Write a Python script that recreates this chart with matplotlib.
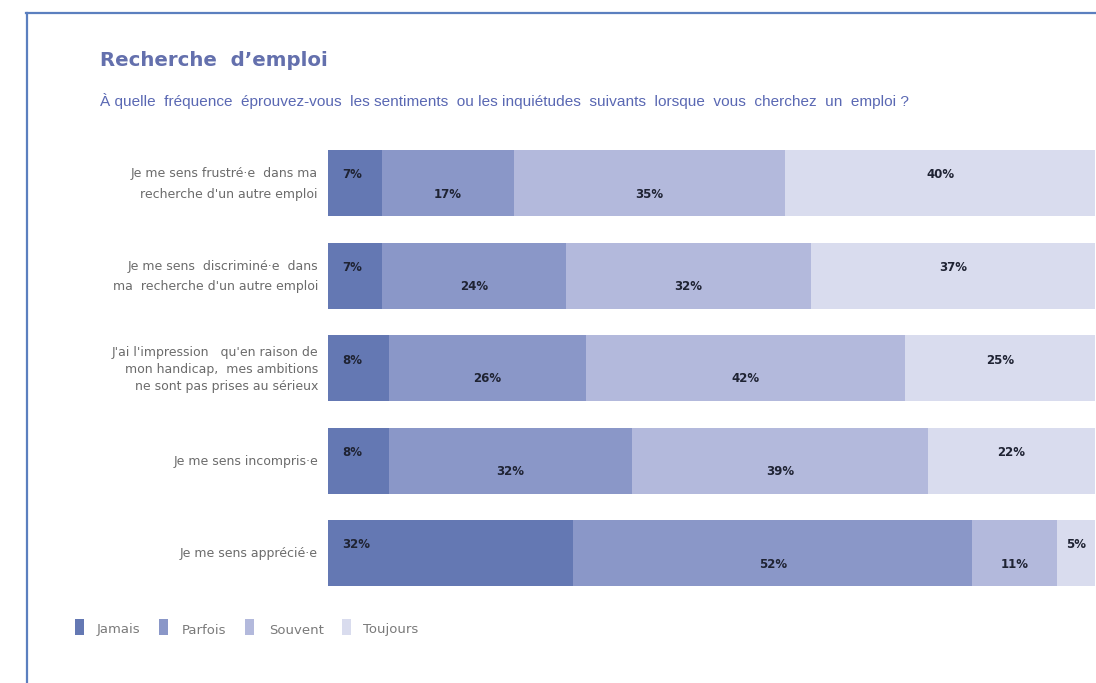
import matplotlib
matplotlib.use("Agg")
import matplotlib.pyplot as plt
from matplotlib.patches import Rectangle
from matplotlib.lines import Line2D

# donnees
questions = [
    "Je me sens frustré·e  dans ma\nrecherche d'un autre emploi",
    "Je me sens  discriminé·e  dans\nma  recherche d'un autre emploi",
    "J'ai l'impression   qu'en raison de\nmon handicap,  mes ambitions\nne sont pas prises au sérieux",
    "Je me sens incompris·e",
    "Je me sens apprécié·e",
]
categories = ["Jamais", "Parfois", "Souvent", "Toujours"]
jamais = [7, 7, 8, 8, 32]
parfois = [17, 24, 26, 32, 52]
souvent = [35, 32, 42, 39, 11]
toujours = [40, 37, 25, 22, 5]
series = [jamais, parfois, souvent, toujours]

colors = ["#6478b3", "#8a97c8", "#b3b9dc", "#d9dcee"]

W, H = 1096, 683
fig = plt.figure(figsize=(W / 100, H / 100), dpi=100)
fig.patch.set_facecolor("white")

def fx(px):
    return px / W

def fy(py):
    return 1 - py / H

# barres empilees a 100 % (chaque ligne ramenee a son total)
totals = [sum(col) for col in zip(*series)]

step = 92.5
top = 183 - step / 2
ax = fig.add_axes([fx(328), fy(top + 5 * step), fx(1095 - 328), 5 * step / H])
ax.set_xlim(0, 100)
ax.set_ylim(4.5, -0.5)
ax.axis("off")

bar_h = 66 / step
y = list(range(len(questions)))
left = [0] * len(questions)
for k, vals in enumerate(series):
    widths = [v / t * 100 for v, t in zip(vals, totals)]
    ax.barh(y, widths, left=left, height=bar_h, color=colors[k], edgecolor="none")
    for i, v in enumerate(vals):
        # premier et dernier segment : etiquette en haut, les autres en bas
        dy = -8 / step if k in (0, 3) else 11 / step
        if k == 0:
            ax.text(left[i] + 1.8, i + dy, f"{v}%", ha="left", va="center",
                    fontsize=8.5, fontweight="bold", color="#1f2333")
        else:
            ax.text(left[i] + widths[i] / 2, i + dy, f"{v}%", ha="center",
                    va="center", fontsize=8.5, fontweight="bold", color="#1f2333")
    left = [l + w for l, w in zip(left, widths)]

# libelles des questions
for i, q in enumerate(questions):
    ls = 1.4 if q.count("\n") > 1 else 1.75
    fig.text(fx(318), fy(183 + i * step + 1), q, ha="right", va="center",
             fontsize=9, color="#6b6b6b", linespacing=ls,
             family="DejaVu Sans")

# titre et sous-titre
title = fig.text(fx(100), fy(60), "Recherche  d’emploi", ha="left", va="center",
                 fontsize=17, fontweight="semibold", color="#6470ad",
                 family=["DejaVu Sans"])
sub = fig.text(fx(100), fy(101),
               "À quelle  fréquence  éprouvez-vous  les sentiments  ou les inquiétudes  "
               "suivants  lorsque  vous  cherchez  un  emploi ?",
               ha="left", va="center", fontsize=12, color="#5a68b3",
               family=["Liberation Sans Narrow", "Liberation Sans", "DejaVu Sans"])

# ajuster la taille des textes a la largeur mesuree sur l'image
fig.canvas.draw()
r = fig.canvas.get_renderer()
for t, target in [(title, 228), (sub, 810)]:
    w = t.get_window_extent(r).width
    t.set_fontsize(t.get_fontsize() * target / w)

# legende
leg_sq = [75, 159, 245, 342]
leg_tx = [97, 182, 269, 363]
for k, c in enumerate(categories):
    fig.add_artist(Rectangle((fx(leg_sq[k]), fy(635)), fx(9), 16 / H,
                             transform=fig.transFigure, color=colors[k], lw=0))
    fig.text(fx(leg_tx[k]), fy(630), c, ha="left", va="center",
             fontsize=9.5, color="#7a7a7a")

# cadre bleu
fig.add_artist(Line2D([fx(26.5), fx(26.5)], [fy(13), 0], transform=fig.transFigure,
                      color="#5b7fbf", lw=1.6))
fig.add_artist(Line2D([fx(26), 1], [fy(13), fy(13)], transform=fig.transFigure,
                      color="#5b7fbf", lw=1.6))

fig.savefig("out.png", dpi=100)
